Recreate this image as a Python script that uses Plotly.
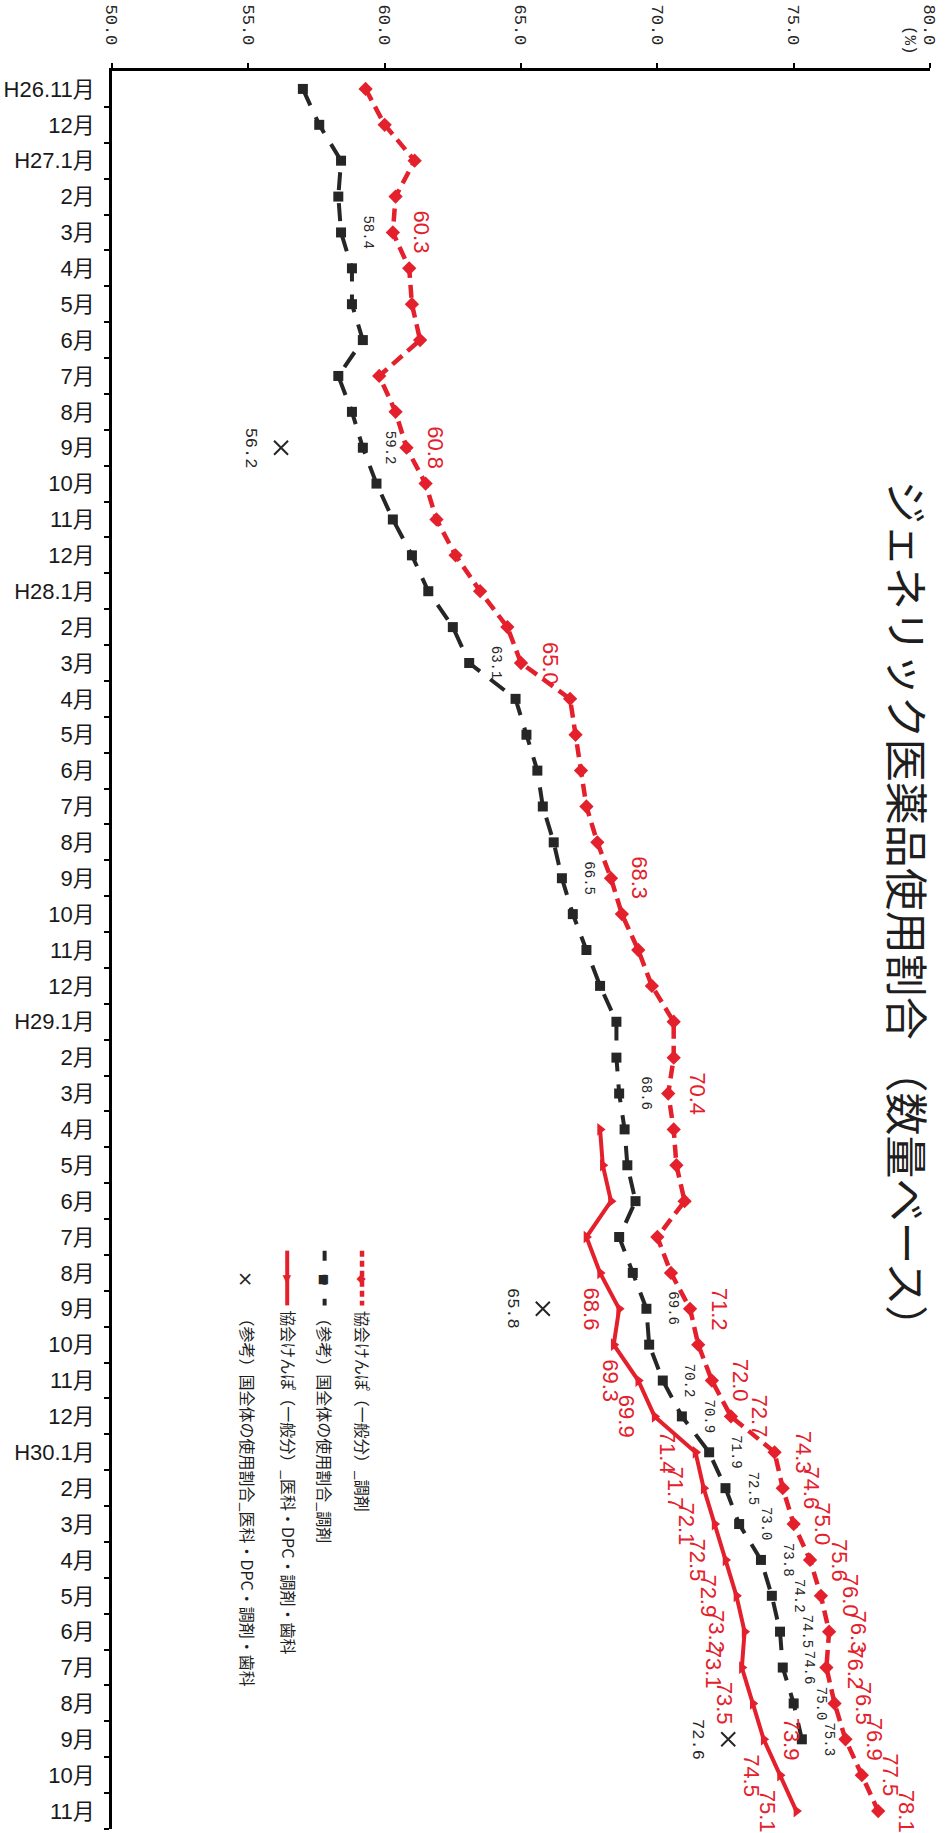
import plotly.graph_objects as go

# Month axis (H26.11 .. H30.11)
months = [
    "H26.11月", "12月",
    "H27.1月", "2月", "3月", "4月", "5月", "6月", "7月", "8月", "9月", "10月", "11月", "12月",
    "H28.1月", "2月", "3月", "4月", "5月", "6月", "7月", "8月", "9月", "10月", "11月", "12月",
    "H29.1月", "2月", "3月", "4月", "5月", "6月", "7月", "8月", "9月", "10月", "11月", "12月",
    "H30.1月", "2月", "3月", "4月", "5月", "6月", "7月", "8月", "9月", "10月", "11月",
]

# 協会けんぽ（一般分）_調剤
kyokai_chozai = [
    59.3, 60.0,
    61.1, 60.4, 60.3, 60.9, 61.0, 61.3, 59.8, 60.4, 60.8, 61.5, 61.9, 62.6,
    63.5, 64.5, 65.0, 66.8, 67.0, 67.2, 67.4, 67.8, 68.3, 68.7, 69.3, 69.8,
    70.6, 70.6, 70.4, 70.6, 70.7, 71.0, 70.0, 70.5, 71.2, 71.5, 72.0, 72.7,
    74.3, 74.6, 75.0, 75.6, 76.0, 76.3, 76.2, 76.5, 76.9, 77.5, 78.1,
]

# （参考）国全体の使用割合_調剤
kuni_chozai = [
    57.0, 57.6,
    58.4, 58.3, 58.4, 58.8, 58.8, 59.2, 58.3, 58.8, 59.2, 59.7, 60.3, 61.0,
    61.6, 62.5, 63.1, 64.8, 65.2, 65.6, 65.8, 66.2, 66.5, 66.9, 67.4, 67.9,
    68.5, 68.5, 68.6, 68.8, 68.9, 69.2, 68.6, 69.1, 69.6, 69.7, 70.2, 70.9,
    71.9, 72.5, 73.0, 73.8, 74.2, 74.5, 74.6, 75.0, 75.3, None, None,
]

# 協会けんぽ（一般分）_医科・DPC・調剤・歯科
kyokai_all = [
    None, None,
    None, None, None, None, None, None, None, None, None, None, None, None,
    None, None, None, None, None, None, None, None, None, None, None, None,
    None, None, None, 67.9, 68.0, 68.3, 67.4, 67.9, 68.6, 68.4, 69.3, 69.9,
    71.4, 71.7, 72.1, 72.5, 72.9, 73.2, 73.1, 73.5, 73.9, 74.5, 75.1,
]

# （参考）国全体の使用割合_医科・DPC・調剤・歯科
kuni_all = [
    None, None,
    None, None, None, None, None, None, None, None, 56.2, None, None, None,
    None, None, None, None, None, None, None, None, None, None, None, None,
    None, None, None, None, None, None, None, None, 65.8, None, None, None,
    None, None, None, None, None, None, None, None, 72.6, None, None,
]

# months whose values are printed next to the marker
kyokai_chozai_labeled = [4, 10, 16, 22, 28, 34, 36, 37, 38, 39, 40, 41, 42, 43, 44, 45, 46, 47, 48]
kuni_chozai_labeled = [4, 10, 16, 22, 28, 34, 36, 37, 38, 39, 40, 41, 42, 43, 44, 45, 46]
kyokai_all_labeled = [34, 36, 37, 38, 39, 40, 41, 42, 43, 44, 45, 46, 47, 48]
kyokai_all_right = [46]
kuni_all_labeled = [10, 34, 46]

x_ticks = [50, 55, 60, 65, 70, 75, 80]
x_tick_text = ["50.0", "55.0", "60.0", "65.0", "70.0", "75.0", "80.0"]

title = "ジェネリック医薬品使用割合 （数量ベース）"
legend_names = [
    "協会けんぽ（一般分）_調剤",
    "（参考）国全体の使用割合_調剤",
    "協会けんぽ（一般分）_医科・DPC・調剤・歯科",
    "（参考）国全体の使用割合_医科・DPC・調剤・歯科",
]

RED = "#e3202b"
DARK = "#262626"
NARROW = "Liberation Sans Narrow, Liberation Sans, Noto Sans CJK JP"
MONO = "Liberation Mono, DejaVu Sans Mono, monospace"
CJK = "Noto Sans CJK JP"

W, H = 947, 1833
ML, MR, MT, MB = 99, 17, 63, 4

y_idx = list(range(len(months)))

fig = go.Figure()

fig.add_trace(go.Scatter(
    x=kyokai_chozai, y=y_idx, mode="lines+markers", name=legend_names[0],
    line=dict(color=RED, width=4.5, dash="13px,7px"),
    marker=dict(symbol="diamond", size=11, color=RED),
    connectgaps=False,
))
fig.add_trace(go.Scatter(
    x=kuni_chozai, y=y_idx, mode="lines+markers", name=legend_names[1],
    line=dict(color=DARK, width=4, dash="18px,13px"),
    marker=dict(symbol="square", size=10, color=DARK),
    connectgaps=False,
))
fig.add_trace(go.Scatter(
    x=kyokai_all, y=y_idx, mode="lines+markers", name=legend_names[2],
    line=dict(color=RED, width=4),
    marker=dict(symbol="triangle-right", size=11, color=RED),
    connectgaps=False,
))
fig.add_trace(go.Scatter(
    x=kuni_all, y=y_idx, mode="markers", name=legend_names[3],
    marker=dict(symbol="x-thin", size=14, color=DARK, line=dict(width=2, color=DARK)),
))


def value_labels(values, indices, shift, font, right=()):
    for i in indices:
        v = values[i]
        fig.add_annotation(
            x=v, y=i, text=f"{v:.1f}", textangle=90, showarrow=False,
            xshift=(abs(shift) if i in right else shift),
            xanchor="center", yanchor="middle", font=font,
        )


value_labels(kyokai_chozai, kyokai_chozai_labeled, 29,
             dict(family=NARROW, size=22, color=RED))
value_labels(kuni_chozai, kuni_chozai_labeled, 27,
             dict(family=MONO, size=14, color=DARK))
value_labels(kyokai_all, kyokai_all_labeled, -28,
             dict(family=NARROW, size=22, color=RED), right=kyokai_all_right)
value_labels(kuni_all, kuni_all_labeled, -31,
             dict(family=MONO, size=17, color=DARK))


def px(xp):
    return (xp - ML) / (W - ML - MR)


def py(yp):
    return 1 - (yp - MT) / (H - MT - MB)


# title, written down the right side
fig.add_annotation(
    xref="paper", yref="paper", x=px(909), y=py(910), text=title, textangle=90,
    showarrow=False, xanchor="center", yanchor="middle",
    font=dict(family=CJK, size=43, color="#1e1e1e"),
)

# unit next to the last value tick
fig.add_annotation(
    xref="paper", yref="paper", x=px(909), y=py(32), text="(%)", textangle=90,
    showarrow=False, xanchor="center", yanchor="middle",
    font=dict(family=MONO, size=16, color=DARK),
)

# legend keys
key_x = [353, 315, 277, 236]
key_line = [
    dict(color=RED, width=4.5, dash="6px,4px"),
    dict(color=DARK, width=4, dash="10px,14px"),
    dict(color=RED, width=4),
    None,
]
key_symbol = ["◆", "■", "▶", "×"]
key_symbol_color = [RED, DARK, RED, DARK]
key_symbol_size = [12, 12, 11, 20]
for k in range(4):
    if key_line[k] is not None:
        fig.add_shape(type="line", xref="paper", yref="paper",
                      x0=px(key_x[k]), x1=px(key_x[k]), y0=py(1248), y1=py(1303),
                      line=key_line[k])
    fig.add_annotation(
        xref="paper", yref="paper", x=px(key_x[k]), y=py(1277), text=key_symbol[k],
        textangle=90, showarrow=False, xanchor="center", yanchor="middle",
        font=dict(family="DejaVu Sans", size=key_symbol_size[k], color=key_symbol_color[k]),
    )
    fig.add_annotation(
        xref="paper", yref="paper", x=px(key_x[k] + 1), y=py(1306), text=legend_names[k],
        textangle=90, showarrow=False, xanchor="center", yanchor="top",
        font=dict(family=CJK, size=16, color="#1e1e1e"),
    )

fig.update_layout(
    width=W, height=H,
    margin=dict(l=ML, r=MR, t=MT, b=MB),
    paper_bgcolor="white", plot_bgcolor="white",
    showlegend=False,
    font=dict(family=NARROW, color=DARK),
    xaxis=dict(
        range=[50, 80], side="top", tickmode="array", tickvals=x_ticks,
        ticktext=x_tick_text, tickangle=90, ticks="outside", ticklen=5,
        tickwidth=1.5, tickcolor="black", showline=True, linewidth=2.5,
        linecolor="black", showgrid=False, zeroline=False,
        tickfont=dict(family=MONO, size=17, color=DARK), ticklabelstandoff=12,
    ),
    yaxis=dict(
        range=[48.5, -0.5], tickmode="array", tickvals=y_idx, ticktext=months,
        ticks="", showline=True, linewidth=2.5, linecolor="black",
        showgrid=False, zeroline=False,
        tickfont=dict(family=NARROW, size=22, color="#1a1a1a"),
        ticklabelstandoff=10,
        minor=dict(tickmode="array", tickvals=[i + 0.5 for i in y_idx],
                   ticks="outside", ticklen=5, tickwidth=1.5, tickcolor="black",
                   showgrid=False),
    ),
)

fig.write_html("out.html")
